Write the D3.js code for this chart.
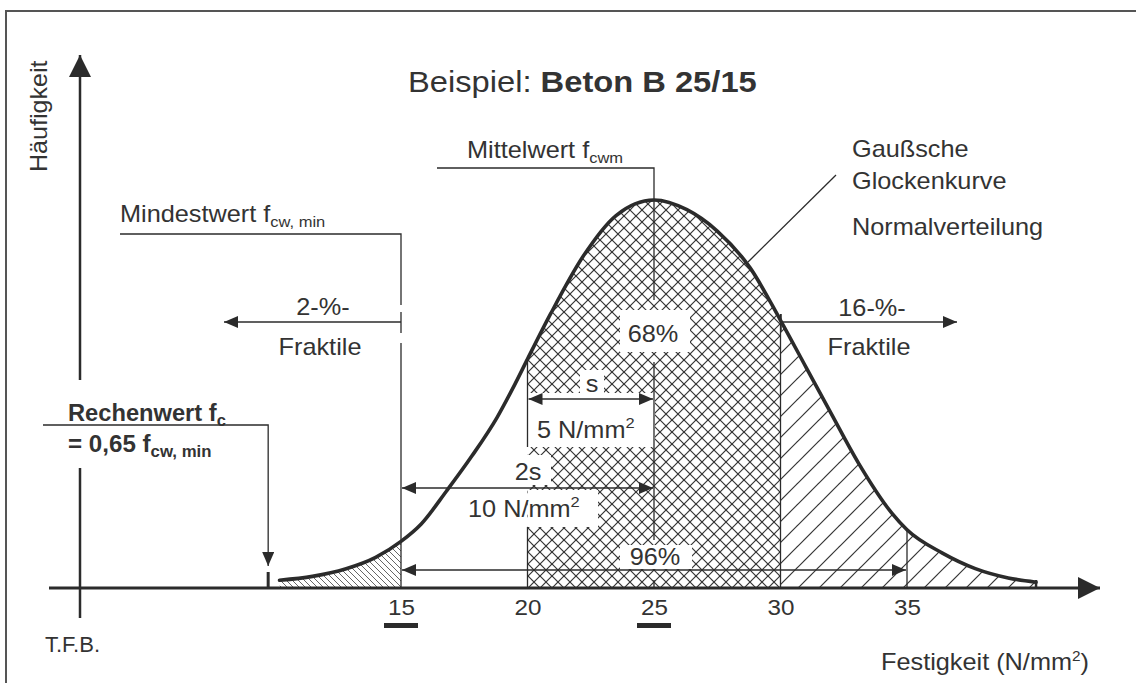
<!DOCTYPE html>
<html><head><meta charset="utf-8">
<script src="https://cdn.jsdelivr.net/npm/d3@7"></script>
<style>
body{margin:0;background:#fff}
svg{display:block}
text{font-family:"Liberation Sans",Arial,Helvetica,sans-serif;fill:#333}
</style>
</head><body>
<svg id="c" width="1136" height="683"></svg>
<script>
// ---- data ----
const strength  = [10.2,11.5,12.8,14,15,15.8,16.8,17.8,18.8,19.5,20,20.9,22.2,23.5,25,26.3,27.5,28.8,30,31,32,33.1,34.4,35,36.4,37.7,39,40.1];
const frequency = [2,3,4.9,7.9,12,16.5,25,34,44,52.5,59,70.5,85.5,96,100,97.5,92,82.5,69,57,45,32,19.3,15,9,5,2.6,1.5];
const tickValues = [15,20,25,30,35];
const underlinedTicks = [15,25];
const tailLow = [10.2,15], band68 = [20,30], tailHigh = [30,40.1];
const meanValue = 25, minValue = 15, rechenwert = 0.65*15, sd = 5;

const ink = "#2b2b2b";
const svg = d3.select("#c");
const x = d3.scaleLinear().domain([15,35]).range([401,907]);
const y = d3.scaleLinear().domain([0,100]).range([588,200]);
const pts = strength.map((s,i)=>[s,frequency[i]]);
const fAt = v => frequency[strength.indexOf(v)];

const defs = svg.append("defs");
function hatch(id,size,paths,sw,color){
  const p = defs.append("pattern").attr("id",id).attr("patternUnits","userSpaceOnUse")
    .attr("width",size).attr("height",size);
  paths.forEach(d=>p.append("path").attr("d",d).attr("stroke",color).attr("stroke-width",sw).attr("fill","none"));
}
hatch("fine",6,["M0,0L6,6","M-1,5L1,7","M5,-1L7,1"],0.9,"#555");
hatch("cross",12,["M0,0L12,12","M12,0L0,12"],1.2,"#333");
hatch("diag",21,["M0,21L21,0","M-1,1L1,-1","M20,22L22,20"],1.2,"#333");

function marker(id,len,wid){
  defs.append("marker").attr("id",id).attr("markerUnits","userSpaceOnUse")
    .attr("markerWidth",len).attr("markerHeight",wid).attr("refX",len).attr("refY",wid/2)
    .attr("orient","auto-start-reverse")
    .append("path").attr("d",`M0,0L${len},${wid/2}L0,${wid}Z`).attr("fill",ink);
}
marker("ah",14,12);
marker("big",22,22);

// frame
svg.append("path").attr("d","M6,683V11H1136").attr("fill","none").attr("stroke","#555").attr("stroke-width",2);

// hatched regions
const area = d3.area().x(d=>x(d[0])).y0(y(0)).y1(d=>y(d[1])).curve(d3.curveMonotoneX);
const line = d3.line().x(d=>x(d[0])).y(d=>y(d[1])).curve(d3.curveMonotoneX);
[[tailLow,"fine"],[band68,"cross"],[tailHigh,"diag"]].forEach(([b,pat],i)=>{
  defs.append("clipPath").attr("id","clip"+i).append("rect")
    .attr("x",x(b[0])).attr("y",0).attr("width",x(b[1])-x(b[0])).attr("height",y(0));
  svg.append("path").attr("d",area(pts)).attr("fill",`url(#${pat})`).attr("clip-path",`url(#clip${i})`);
});

// white label boxes over the hatch
[[620,310,70,42],[580,370,24,23],[528,393,127,54],[505,455,46,30],[528,490,70,37],[620,545,72,24]]
  .forEach(r=>svg.append("rect").attr("x",r[0]).attr("y",r[1]).attr("width",r[2]).attr("height",r[3]).attr("fill","#fff"));

function seg(d,w=1.3,extra){
  const p = svg.append("path").attr("d",d).attr("fill","none").attr("stroke",ink).attr("stroke-width",w);
  if(extra) extra(p);
  return p;
}
// reference lines
seg(`M120,234H${x(minValue)}V305M${x(minValue)},312V333M${x(minValue)},343V${y(0)}`);
seg(`M437,168H${x(meanValue)}V300M${x(meanValue)},362V540M${x(meanValue)},580V${y(0)}`);
seg(`M${x(20)},${y(fAt(20))}V447M${x(20)},527V${y(0)}`);
seg(`M${x(30)},314V${y(0)}`);
seg(`M${x(35)},${y(fAt(35))}V${y(0)}`);

// fractile arrows
seg(`M${x(minValue)},322H224`,1.3,p=>p.attr("marker-end","url(#ah)"));
seg(`M${x(30)},322H957`,1.3,p=>p.attr("marker-end","url(#ah)"));
seg(`M${x(30)+0.5},314V331`,1.5);
// dimension arrows
const dim = (a,b,yy)=>seg(`M${x(a)+1},${yy}H${x(b)-1}`,1.3,p=>p.attr("marker-start","url(#ah)").attr("marker-end","url(#ah)"));
dim(meanValue-sd,meanValue,399);
dim(meanValue-2*sd,meanValue,488);
dim(minValue,35,570);

// Rechenwert leader
seg(`M43,425H${x(rechenwert)}V566`,1.3,p=>p.attr("marker-end","url(#ah)"));
seg(`M${x(rechenwert)},572V${y(0)}`,3);
// Gauss leader
seg("M836,175L748,262",1.3);

// axes
seg(`M80,618V468`,2.5);
seg(`M80,380V55`,2.5,p=>p.attr("marker-end","url(#big)"));
seg(`M49,${y(0)}H1100`,3,p=>p.attr("marker-end","url(#big)"));

// curve
svg.append("path").attr("d",line(pts)).attr("fill","none").attr("stroke",ink).attr("stroke-width",3.6).attr("stroke-linecap","round");
seg(`M${x(strength[strength.length-1])},580V${y(0)}`,2.5);

// tick labels via axis
const ax = svg.append("g").attr("transform",`translate(0,${y(0)})`)
  .call(d3.axisBottom(x).tickValues(tickValues).tickSize(0).tickPadding(11).tickFormat(d3.format("d")));
ax.select(".domain").remove();
ax.selectAll("text").attr("font-size",22).attr("font-family",null).attr("fill","#333").attr("transform","scale(1.1,1)");
underlinedTicks.forEach(v=>svg.append("rect").attr("x",x(v)-17).attr("y",623).attr("width",34).attr("height",5).attr("fill",ink));

// text helper
function label(x0,y0,parts,o={}){
  const {size=23,anchor="start",sx=1.1,weight="normal",rotate=0}=o;
  const t = svg.append("text")
    .attr("transform",`translate(${x0},${y0})${rotate?` rotate(${rotate})`:""} scale(${sx},1)`)
    .attr("font-size",size).attr("text-anchor",anchor).attr("font-weight",weight);
  parts.forEach(p=>{
    if(typeof p==="string") t.append("tspan").text(p);
    else t.append("tspan").attr("font-size",p.size).attr("dy",p.dy).attr("font-weight",p.weight||null).text(p.t);
  });
  return t;
}
const title = label(408,92,["Beispiel: "],{size:30,sx:1.09});
title.append("tspan").attr("font-weight","bold").text("Beton B 25/15");
label(47,172,["Häufigkeit"],{size:23,sx:1.09,rotate:-90});
label(120,222,["Mindestwert f",{t:"cw, min",size:15,dy:5}]);
label(467,158,["Mittelwert f",{t:"cwm",size:15,dy:5}]);
label(852,157,["Gaußsche"]);
label(852,189,["Glockenkurve"]);
label(852,235,["Normalverteilung"]);
label(323,315,["2-%-"],{anchor:"middle"});
label(320,355,["Fraktile"],{anchor:"middle"});
label(872,316,["16-%-"],{anchor:"middle"});
label(869,355,["Fraktile"],{anchor:"middle"});
label(653,342,["68%"],{anchor:"middle"});
label(592,392,["s"],{anchor:"middle"});
label(537,438,["5 N/mm",{t:"2",size:15,dy:-10}]);
label(528,480,["2s"],{anchor:"middle"});
label(468,517,["10 N/mm",{t:"2",size:15,dy:-10}]);
label(655,565,["96%"],{anchor:"middle"});
label(68,421,["Rechenwert f",{t:"c",size:16,dy:5}],{weight:"bold",sx:1.03});
label(68,452,["= 0,65 f",{t:"cw, min",size:16,dy:5}],{weight:"bold",sx:1.05});
label(45,652,["T.F.B."],{size:22,sx:1});
label(881,670,["Festigkeit  (N/mm",{t:"2",size:14,dy:-9},{t:")",size:23,dy:9}],{size:23,sx:1.1});
</script>
</body></html>
